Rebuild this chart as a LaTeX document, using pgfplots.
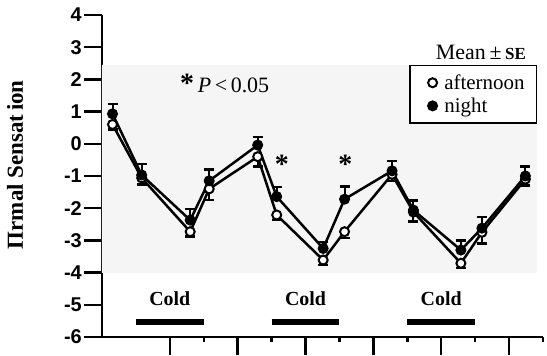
\documentclass[border=0pt]{standalone}
\usepackage{fontspec}
\setmainfont{Liberation Serif}
\newfontfamily\sansf{Liberation Sans}
\usepackage{pgfplots}
\pgfplotsset{compat=1.18}
\begin{document}
\begin{tikzpicture}
\begin{axis}[
  at={(0,0)}, anchor=south west,
  scale only axis, width=441bp, height=322bp,
  xmin=0, xmax=13, ymin=-6, ymax=4,
  axis x line=bottom, axis y line=left,
  axis line style={line width=2bp, -},
  xtick={2,4,6,8,10,12}, minor xtick={3,5,7,9,11,13}, xticklabels={},
  ytick={-6,-5,-4,-3,-2,-1,0,1,2,3,4},
  yticklabels={-6,-5,-4,-3,-2,-1,0,1,2,3,4},
  tick align=outside,
  major tick length=18bp, minor tick length=5bp,
  tick style={line width=2.5bp, black},
  yticklabel style={font=\sansf\bfseries\fontsize{20}{20}\selectfont, inner sep=2bp},
  ylabel={\bfseries Πrmal Sensat\,ion},
  ylabel style={font=\fontsize{23}{23}\selectfont, at={(axis description cs:-0.197,0.535)}, anchor=center},
  clip=false,
  legend style={at={(axis cs:12.83,2.45)}, anchor=north east, draw=black, line width=1.5bp,
    font=\fontsize{21}{21}\selectfont, inner xsep=10bp, inner ysep=7bp, row sep=3bp},
  legend cell align=left,
  legend image code/.code={\path (0cm,0cm) (0.7cm,0cm); \draw[#1] plot coordinates {(0.4cm,0cm)};},
]
% background
\addplot[fill=black!4, draw=none, forget plot] coordinates {(0,-4.01) (12.83,-4.01) (12.83,2.45) (0,2.45) (0,-4.01)};
% cold bars
\addplot[line width=6bp, black, forget plot] coordinates {(1,-5.53) (3,-5.53)};
\addplot[line width=6bp, black, forget plot] coordinates {(5,-5.53) (7,-5.53)};
\addplot[line width=6bp, black, forget plot] coordinates {(9,-5.53) (11,-5.53)};
% afternoon
\addplot[black, line width=2.5bp, mark=*, mark size=4.5bp, mark options={fill=white, draw=black, line width=2bp},
  error bars/.cd, y dir=minus, y explicit, error bar style={line width=2bp, black},
  error mark=|, error mark options={mark size=5bp, line width=2.5bp, black}]
  coordinates {
  (0.31,0.60) -= (0,0.15)
  (1.17,-1.06) -= (0,0.2)
  (2.60,-2.73) -= (0,0.15)
  (3.16,-1.40) -= (0,0.35)
  (4.59,-0.40) -= (0,0.3)
  (5.15,-2.21) -= (0,0.15)
  (6.52,-3.61) -= (0,0.15)
  (7.15,-2.73) -= (0,0.2)
  (8.55,-0.95) -= (0,0.2)
  (9.18,-2.12) -= (0,0.3)
  (10.58,-3.71) -= (0,0.15)
  (11.20,-2.75) -= (0,0.35)
  (12.48,-1.10) -= (0,0.2)
  };
\addlegendentry{afternoon}
% night
\addplot[black, line width=2.5bp, mark=*, mark size=5bp, mark options={fill=black, draw=black, line width=1bp},
  error bars/.cd, y dir=plus, y explicit, error bar style={line width=2bp, black},
  error mark=|, error mark options={mark size=5bp, line width=2.5bp, black}]
  coordinates {
  (0.31,0.93) += (0,0.3)
  (1.17,-0.97) += (0,0.35)
  (2.60,-2.37) += (0,0.35)
  (3.16,-1.15) += (0,0.35)
  (4.59,-0.04) += (0,0.25)
  (5.15,-1.64) += (0,0.3)
  (6.52,-3.25) += (0,0.2)
  (7.15,-1.72) += (0,0.4)
  (8.55,-0.84) += (0,0.3)
  (9.18,-2.06) += (0,0.3)
  (10.58,-3.30) += (0,0.3)
  (11.20,-2.62) += (0,0.35)
  (12.48,-1.00) += (0,0.3)
  };
\addlegendentry{night}
% annotations
\node[font=\bfseries\fontsize{28}{28}\selectfont] at (axis cs:5.30,-0.64) {*};
\node[font=\bfseries\fontsize{28}{28}\selectfont] at (axis cs:7.17,-0.64) {*};
\node[font=\fontsize{22}{22}\selectfont, anchor=west] at (axis cs:2.2,1.88) {{\fontsize{28}{28}\selectfont\bfseries *}\,\textit{P}\,<\,0.05};
\node[font=\fontsize{22}{22}\selectfont, anchor=east] at (axis cs:12.6,2.85) {Mean\,±\,{\bfseries\fontsize{17}{17}\selectfont SE}};
\node[font=\bfseries\fontsize{20}{20}\selectfont] at (axis cs:2,-4.8) {Cold};
\node[font=\bfseries\fontsize{20}{20}\selectfont] at (axis cs:6,-4.8) {Cold};
\node[font=\bfseries\fontsize{20}{20}\selectfont] at (axis cs:10,-4.8) {Cold};
\end{axis}
\pgfresetboundingbox
\useasboundingbox (-102bp,-19bp) rectangle (445bp,337bp);
\end{tikzpicture}
\end{document}
